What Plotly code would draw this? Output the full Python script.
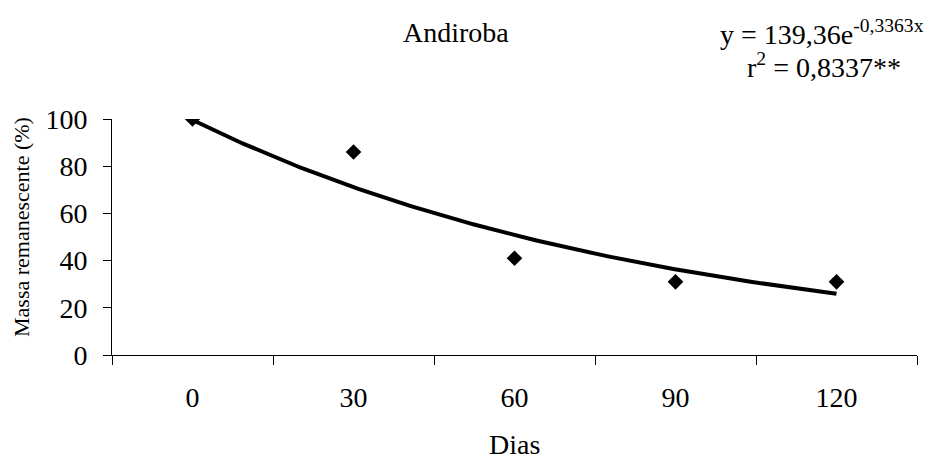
import numpy as np
import plotly.graph_objects as go

# Data
dias_labels = ["0", "30", "60", "90", "120"]
massa = [100, 86, 41, 31, 31]
# trendline coefficients (from the chart's equation)
coef_a = 139.36
coef_b = -0.3363

idx = list(range(1, len(dias_labels) + 1))
xs = np.linspace(1, len(dias_labels), 200)
ys = coef_a * np.exp(coef_b * xs)

FONT = "Liberation Serif"

fig = go.Figure()
fig.add_trace(go.Scatter(x=xs, y=ys, mode="lines",
                         line=dict(color="black", width=4),
                         hoverinfo="skip", showlegend=False))
fig.add_trace(go.Scatter(x=idx, y=massa, mode="markers",
                         marker=dict(symbol="diamond", size=12, color="black"),
                         showlegend=False, xaxis="x2"))

boundaries = [i + 0.5 for i in range(0, len(dias_labels) + 1)]
fig.update_layout(
    width=931, height=462,
    margin=dict(l=112, r=14, t=119, b=107),
    paper_bgcolor="white", plot_bgcolor="white",
    font=dict(family=FONT, color="black", size=28),
    xaxis=dict(range=[0.5, len(dias_labels) + 0.5], tickvals=boundaries,
               showticklabels=False, ticks="outside", ticklen=9,
               tickcolor="black", tickwidth=1, showgrid=False, zeroline=False,
               showline=True, linecolor="black", linewidth=1, automargin=False),
    xaxis2=dict(range=[0.5, len(dias_labels) + 0.5], overlaying="x",
                tickvals=idx, ticktext=dias_labels, ticks="", showgrid=False,
                zeroline=False, showline=False, side="bottom", automargin=False,
                tickfont=dict(family=FONT, size=28), ticklabelstandoff=23),
    yaxis=dict(range=[0, 100], tickvals=[0, 20, 40, 60, 80, 100],
               ticks="outside", ticklen=8, tickcolor="black", tickwidth=1,
               showgrid=False, zeroline=False, showline=True, automargin=False,
               linecolor="black", linewidth=1,
               tickfont=dict(family=FONT, size=28), ticklabelstandoff=10),
    annotations=[
        dict(text="Dias", xref="paper", yref="paper", x=0.5, y=0.0,
             yshift=-89, xanchor="center", yanchor="middle", showarrow=False,
             font=dict(family=FONT, size=28)),
        dict(text="Massa remanescente (%)", textangle=-90, xref="paper",
             yref="paper", x=0, xshift=-91, y=0.5, yshift=10,
             xanchor="center", yanchor="middle", showarrow=False,
             font=dict(family=FONT, size=22)),
        dict(text="Andiroba", xref="paper", yref="paper", x=0.427, y=1.0,
             yshift=87, xanchor="center", yanchor="middle", showarrow=False,
             font=dict(family=FONT, size=28)),
        dict(text="y = 139,36e<sup>-0,3363x</sup>", xref="paper", yref="paper",
             x=1.0, xshift=9, y=1.0, yshift=87, xanchor="right",
             yanchor="middle", showarrow=False,
             font=dict(family=FONT, size=28)),
        dict(text="r<sup>2</sup> = 0,8337**", xref="paper", yref="paper",
             x=1.0, xshift=-14, y=1.0, yshift=54, xanchor="right",
             yanchor="middle", showarrow=False,
             font=dict(family=FONT, size=28)),
    ],
)

fig.write_html("out.html")
